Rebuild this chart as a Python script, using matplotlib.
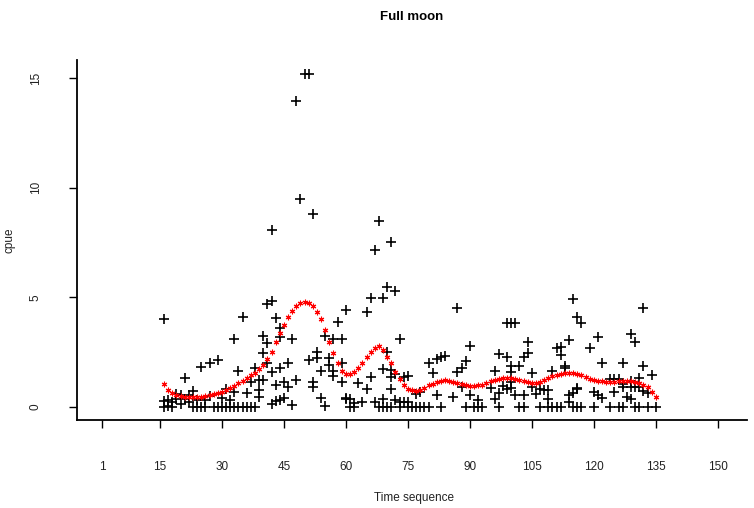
#!/usr/bin/python3
# Full moon: cpue over time sequence, with smoothed trend (red stars)
import numpy as np
import matplotlib
matplotlib.use('Agg')
import matplotlib.pyplot as plt

plt.rcParams['font.family'] = ['Liberation Sans', 'DejaVu Sans']

# raw cpue observations, grouped by time step
obs = {
    16: [4.0, 0.27, 0.0], 17: [0.3, 0.05], 18: [0.23, 0.0], 19: [0.6, 0.35],
    20: [0.55, 0.1], 21: [1.3, 0.35], 22: [0.55, 0.2], 23: [0.72, 0.0],
    24: [0.3, 0.0], 25: [1.8, 0.0], 26: [0.0, 0.3], 27: [2.0, 0.5],
    28: [0.0], 29: [2.13, 0.0], 30: [0.38, 0.0], 31: [0.8, 0.0],
    32: [0.3, 0.0], 33: [3.08, 0.69, 0.0], 34: [1.65, 0.0], 35: [4.08, 0.0],
    36: [0.61, 0.0], 37: [1.11, 0.0], 38: [1.78, 0.0], 39: [1.22, 0.76, 0.46],
    40: [3.23, 2.44, 1.22], 41: [4.69, 2.9, 1.98], 42: [8.09, 4.84, 1.6, 0.12],
    43: [4.04, 0.99, 0.27], 44: [3.58, 3.2, 1.78, 0.3], 45: [1.14, 0.38],
    46: [1.98, 0.88], 47: [3.08, 0.08], 48: [13.98, 1.22], 49: [9.5],
    50: [15.18], 51: [15.18, 2.13], 52: [8.79, 1.14, 0.9], 53: [2.51, 2.21],
    54: [1.65, 0.38], 55: [3.23, 0.03], 56: [2.21, 1.9], 57: [3.08, 1.65, 1.4],
    58: [3.88], 59: [3.08, 1.98, 1.14], 60: [4.42, 0.38, 0.34], 61: [0.34, 0.0],
    62: [0.16, 0.0], 63: [1.1], 64: [0.23], 65: [4.31, 0.79], 66: [4.98, 1.37],
    67: [7.16, 0.23], 68: [8.5, 0.0], 69: [4.98, 1.71, 0.34, 0.0],
    70: [5.48, 2.51, 0.0], 71: [7.51, 1.68, 1.37, 0.79, 0.0], 72: [5.3, 1.48, 0.31],
    73: [3.08, 0.23, 0.0], 74: [1.37, 0.23], 75: [1.42, 0.23, 0.0], 76: [0.0],
    77: [0.57, 0.0], 78: [0.66, 0.0], 79: [0.0], 80: [1.98, 0.0], 81: [1.52],
    82: [2.17, 0.53], 83: [2.28, 0.0], 84: [2.32], 86: [0.46], 87: [4.49, 1.6],
    88: [1.75, 0.88], 89: [2.09, 0.0], 90: [2.79, 0.53], 91: [0.0], 92: [0.3, 0.0],
    93: [0.0], 95: [0.84], 96: [1.65, 0.35], 97: [2.4, 0.61, 0.0], 98: [0.95],
    99: [3.81, 2.28, 0.81], 100: [3.81, 1.86, 1.6, 1.14, 0.84], 101: [3.81, 0.53],
    102: [1.86, 0.0], 103: [2.28, 0.53, 0.0], 104: [2.97, 2.44], 105: [1.52, 0.91],
    106: [0.58], 107: [0.79, 0.0], 108: [0.76], 109: [0.76, 0.35, 0.0],
    110: [1.65, 0.0], 111: [2.67, 0.0], 112: [2.74, 2.36, 0.0], 113: [1.86, 1.75],
    114: [3.05, 0.53, 0.23], 115: [4.92, 0.61, 0.0], 116: [4.11, 0.84, 0.79, 0.0],
    117: [3.81, 0.0], 119: [2.7], 120: [0.69, 0.0], 121: [3.2, 0.53],
    122: [1.98, 0.38], 124: [1.27, 0.0], 125: [1.27, 0.69], 126: [1.27, 0.0],
    127: [1.98, 1.04, 0.89, 0.0], 128: [0.43], 129: [3.32, 1.17, 0.89, 0.34],
    130: [2.97, 0.89, 0.0], 131: [1.3, 0.9, 0.0], 132: [4.49, 1.86, 0.7],
    133: [0.61, 0.0], 134: [1.45], 135: [0.0],
}

# smoothed curve, one value per time step from 16 to 135
smooth_t = list(range(16, 136))
smooth_v = [
    1.02, 0.78, 0.64, 0.55, 0.49, 0.46, 0.44, 0.43, 0.43, 0.44,
    0.48, 0.53, 0.58, 0.63, 0.68, 0.75, 0.84, 0.95, 1.07, 1.19,
    1.32, 1.44, 1.56, 1.72, 1.90, 2.18, 2.51, 2.95, 3.35, 3.75,
    4.11, 4.37, 4.60, 4.72, 4.77, 4.72, 4.60, 4.34, 3.99, 3.50,
    2.94, 2.44, 1.98, 1.65, 1.50, 1.48, 1.58, 1.75, 1.98, 2.28,
    2.52, 2.70, 2.77, 2.59, 2.28, 1.98, 1.60, 1.25, 1.00, 0.82,
    0.74, 0.72, 0.78, 0.87, 0.97, 1.05, 1.11, 1.16, 1.20, 1.18,
    1.13, 1.07, 1.03, 0.98, 0.95, 0.95, 0.97, 0.99, 1.07, 1.15,
    1.22, 1.27, 1.29, 1.30, 1.29, 1.25, 1.21, 1.16, 1.13, 1.10,
    1.09, 1.13, 1.22, 1.30, 1.38, 1.44, 1.49, 1.52, 1.53, 1.53,
    1.50, 1.44, 1.37, 1.27, 1.20, 1.17, 1.15, 1.14, 1.14, 1.14,
    1.15, 1.16, 1.17, 1.16, 1.12, 1.07, 0.98, 0.88, 0.69, 0.43,
]

xticks = [1, 15, 30, 45, 60, 75, 90, 105, 120, 135, 150]
yticks = [0, 5, 10, 15]

px_t = []
px_v = []
for t, vals in obs.items():
    for v in vals:
        px_t.append(t)
        px_v.append(v)

W, H = 754, 508
fig = plt.figure(figsize=(W / 100, H / 100), dpi=100)
ax = fig.add_axes([77.3 / W, 1 - 420 / H, (746.7 - 77.3) / W, (420 - 60) / H])

ax.plot(px_t, px_v, ls='none', marker='+', color='black', ms=7, mew=1.2)
ax.plot(smooth_t, smooth_v, ls='none', marker=(6, 2, 0), color='red', ms=4, mew=0.8)

ax.set_xlim(-5, 157)
ax.set_ylim(-0.61, 15.84)
ax.spines['top'].set_visible(False)
ax.spines['right'].set_visible(False)
for s in ('left', 'bottom'):
    ax.spines[s].set_linewidth(1.3)

ax.set_xticks(xticks)
ax.set_xticklabels([str(v) for v in xticks])
ax.set_yticks(yticks)
ax.set_yticklabels([str(v) for v in yticks], rotation=90, va='center')
ax.tick_params(axis='x', direction='out', length=5.5, width=1, pad=24, labelsize=8.5,
               labelcolor='#222222')
ax.tick_params(axis='y', direction='out', length=5.5, width=1, pad=20, labelsize=8.5,
               labelcolor='#222222')

fig.text(412 / W, 1 - 17 / H, 'Full moon', ha='center', va='center',
         fontsize=9.5, fontweight='bold')
fig.text(414 / W, 1 - 498 / H, 'Time sequence', ha='center', va='center',
         fontsize=8.5, color='#222222')
fig.text(9 / W, 1 - 240 / H, 'cpue', ha='center', va='center', rotation=90,
         fontsize=8.5, color='#222222')

fig.savefig('out.png', dpi=100)
